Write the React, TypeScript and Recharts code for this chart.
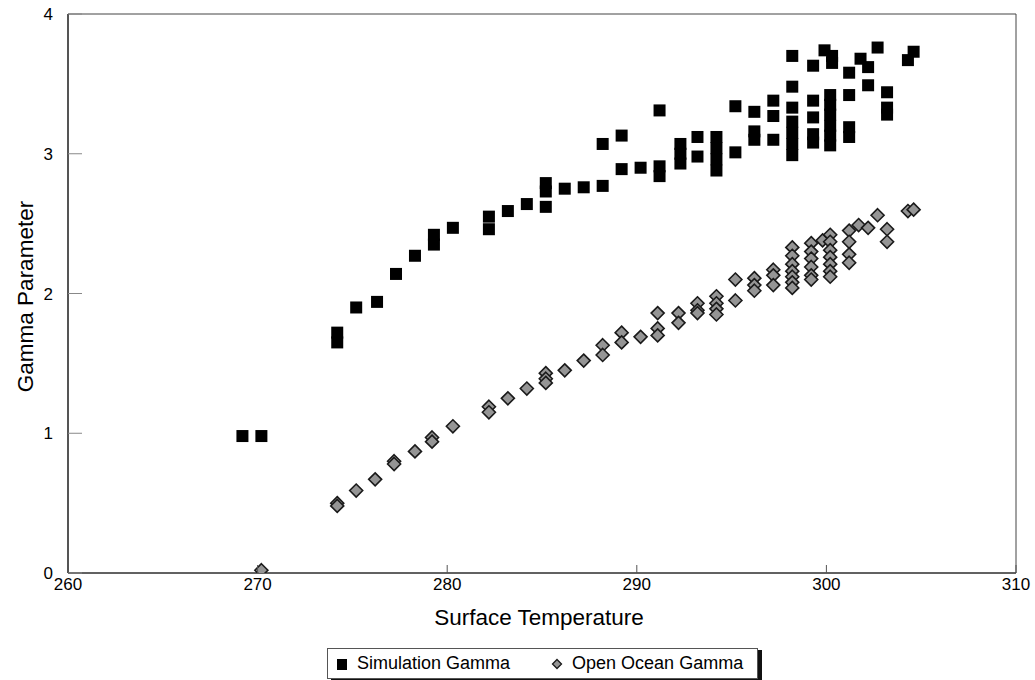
import React from 'react';
import { ScatterChart, Scatter, XAxis, YAxis, ReferenceArea, Legend } from 'recharts';

// [surface temperature, gamma]
const simulationPoints: [number, number][] = [
  [269.2, 0.98], [270.2, 0.98],
  [274.2, 1.72], [274.2, 1.65],
  [275.2, 1.9],
  [276.3, 1.94],
  [277.3, 2.14],
  [278.3, 2.27],
  [279.3, 2.42], [279.3, 2.35],
  [280.3, 2.47],
  [282.2, 2.55], [282.2, 2.46],
  [283.2, 2.59],
  [284.2, 2.64],
  [285.2, 2.79], [285.2, 2.73], [285.2, 2.62],
  [286.2, 2.75],
  [287.2, 2.76],
  [288.2, 2.77], [288.2, 3.07],
  [289.2, 2.89], [289.2, 3.13],
  [290.2, 2.9],
  [291.2, 2.91], [291.2, 2.84], [291.2, 3.31],
  [292.3, 3.07], [292.3, 3.0], [292.3, 2.93],
  [293.2, 3.12], [293.2, 2.98],
  [294.2, 3.12], [294.2, 3.04], [294.2, 2.96], [294.2, 2.88],
  [295.2, 3.34], [295.2, 3.01],
  [296.2, 3.3], [296.2, 3.16], [296.2, 3.1],
  [297.2, 3.38], [297.2, 3.27], [297.2, 3.1],
  [298.2, 3.7], [298.2, 3.48], [298.2, 3.33], [298.2, 3.23], [298.2, 3.15], [298.2, 3.07], [298.2, 2.99],
  [299.3, 3.63], [299.3, 3.38], [299.3, 3.26], [299.3, 3.14], [299.3, 3.08],
  [299.9, 3.74], [300.3, 3.7], [300.3, 3.65],
  [300.2, 3.42], [300.2, 3.35], [300.2, 3.28], [300.2, 3.2], [300.2, 3.13], [300.2, 3.06],
  [301.2, 3.58], [301.2, 3.42], [301.2, 3.19], [301.2, 3.12],
  [301.8, 3.68], [302.2, 3.62], [302.2, 3.49],
  [302.7, 3.76],
  [303.2, 3.44], [303.2, 3.33], [303.2, 3.28],
  [304.3, 3.67], [304.6, 3.73],
];

const oceanPoints: [number, number][] = [
  [270.2, 0.02],
  [274.2, 0.5], [274.2, 0.48],
  [275.2, 0.59],
  [276.2, 0.67],
  [277.2, 0.8], [277.2, 0.78],
  [278.3, 0.87],
  [279.2, 0.97], [279.2, 0.94],
  [280.3, 1.05],
  [282.2, 1.19], [282.2, 1.15],
  [283.2, 1.25],
  [284.2, 1.32],
  [285.2, 1.43], [285.2, 1.39], [285.2, 1.36],
  [286.2, 1.45],
  [287.2, 1.52],
  [288.2, 1.63], [288.2, 1.56],
  [289.2, 1.72], [289.2, 1.65],
  [290.2, 1.69],
  [291.1, 1.86], [291.1, 1.75], [291.1, 1.7],
  [292.2, 1.86], [292.2, 1.79],
  [293.2, 1.93], [293.2, 1.88], [293.2, 1.86],
  [294.2, 1.98], [294.2, 1.93], [294.2, 1.89], [294.2, 1.85],
  [295.2, 2.1], [295.2, 1.95],
  [296.2, 2.11], [296.2, 2.06], [296.2, 2.02],
  [297.2, 2.17], [297.2, 2.13], [297.2, 2.06],
  [298.2, 2.33], [298.2, 2.27], [298.2, 2.21], [298.2, 2.16], [298.2, 2.12], [298.2, 2.08], [298.2, 2.04],
  [299.2, 2.36], [299.2, 2.3], [299.2, 2.25], [299.2, 2.19], [299.2, 2.13], [299.2, 2.1],
  [299.8, 2.38],
  [300.2, 2.42], [300.2, 2.37], [300.2, 2.31], [300.2, 2.26], [300.2, 2.21], [300.2, 2.16], [300.2, 2.12],
  [301.2, 2.45], [301.2, 2.37], [301.2, 2.28], [301.2, 2.22],
  [301.7, 2.49], [302.2, 2.47],
  [302.7, 2.56],
  [303.2, 2.46], [303.2, 2.37],
  [304.3, 2.59], [304.6, 2.6],
];

const seriesNames = ['Simulation Gamma', 'Open Ocean Gamma'];
const xTicks = [260, 270, 280, 290, 300, 310];
const yTicks = [0, 1, 2, 3, 4];

const simulationData = simulationPoints.map(([x, y]) => ({ x, y }));
const oceanData = oceanPoints.map(([x, y]) => ({ x, y }));

const FONT = '"Liberation Sans", Arial, sans-serif';

const SquareShape = (props: any) => {
  const { cx, cy } = props;
  if (cx == null || cy == null) return null;
  return <rect x={cx - 6} y={cy - 6} width={12} height={12} fill="#000" />;
};

const DiamondShape = (props: any) => {
  const { cx, cy } = props;
  if (cx == null || cy == null) return null;
  const r = 6.5;
  return (
    <path
      d={`M${cx},${cy - r}L${cx + r},${cy}L${cx},${cy + r}L${cx - r},${cy}Z`}
      fill="#959595"
      stroke="#1a1a1a"
      strokeWidth={1.6}
    />
  );
};

const XTick = (props: any) => {
  const { x, y, payload } = props;
  return (
    <g>
      <line x1={x} x2={x} y1={y} y2={y - 8} stroke="#555" strokeWidth={1} />
      <text x={x} y={y + 17} textAnchor="middle" fontSize={17} fontFamily={FONT} fill="#000">
        {payload.value}
      </text>
    </g>
  );
};

const YTick = (props: any) => {
  const { x, y, payload } = props;
  return (
    <g>
      <line x1={x} x2={x + 14} y1={y} y2={y} stroke="#888" strokeWidth={1} />
      <text x={x - 15} y={y + 6} textAnchor="end" fontSize={17} fontFamily={FONT} fill="#000">
        {payload.value}
      </text>
    </g>
  );
};

const XTitle = (props: any) => {
  const vb = props.viewBox;
  return (
    <text x={vb.x + vb.width / 2 - 3} y={vb.y + 52} textAnchor="middle" fontSize={22.5} fontFamily={FONT} fill="#000">
      Surface Temperature
    </text>
  );
};

const YTitle = (props: any) => {
  const vb = props.viewBox;
  const cx = vb.x + 25;
  const cy = vb.y + vb.height / 2 + 3;
  return (
    <text
      x={cx}
      y={cy}
      transform={`rotate(-90, ${cx}, ${cy})`}
      textAnchor="middle"
      fontSize={22.5}
      fontFamily={FONT}
      fill="#000"
    >
      Gamma Parameter
    </text>
  );
};

const LegendContent = () => {
  return (
    <div
      style={{
        boxSizing: 'border-box',
        width: 431,
        height: 31,
        border: '1px solid #555',
        boxShadow: '4px 2px 0 #111',
        background: '#fff',
        display: 'flex',
        alignItems: 'center',
        fontFamily: FONT,
        fontSize: 18,
        color: '#000',
        paddingLeft: 7,
      }}
    >
      {seriesNames.map((name, i) => (
        <div key={name} style={{ display: 'flex', alignItems: 'center', marginRight: i === 0 ? 40 : 0 }}>
          <svg width={14} height={14} style={{ marginRight: 8 }}>
            {i === 0 ? (
              <rect x={2} y={2} width={10} height={11} fill="#000" />
            ) : (
              <path d="M7,2.5L11.5,7L7,11.5L2.5,7Z" fill="#959595" stroke="#1a1a1a" strokeWidth={1.3} />
            )}
          </svg>
          <span>{name}</span>
        </div>
      ))}
    </div>
  );
};

export default function App() {
  return (
    <div style={{ width: 1035, height: 680, background: '#fff', position: 'relative' }}>
      <style>{'body{margin:0;background:#fff;}'}</style>
      <ScatterChart width={1035} height={680} margin={{ top: 14, right: 19, left: 8, bottom: 47 }}>
        <XAxis
          type="number"
          dataKey="x"
          domain={[260, 310]}
          ticks={xTicks}
          allowDataOverflow
          height={60}
          tickSize={0}
          tickMargin={0}
          tickLine={false}
          tick={<XTick />}
          axisLine={{ stroke: '#222', strokeWidth: 1.2 }}
          label={<XTitle />}
          interval={0}
        />
        <YAxis
          type="number"
          dataKey="y"
          domain={[0, 4]}
          ticks={yTicks}
          allowDataOverflow
          width={60}
          tickSize={0}
          tickMargin={0}
          tickLine={false}
          tick={<YTick />}
          axisLine={{ stroke: '#222', strokeWidth: 1.2 }}
          label={<YTitle />}
          interval={0}
        />
        <ReferenceArea x1={260} x2={310} y1={0} y2={4} fill="none" stroke="#444" strokeWidth={1} ifOverflow="visible" />
        <Scatter name={seriesNames[0]} data={simulationData} shape={<SquareShape />} isAnimationActive={false} legendType="square" fill="#000" />
        <Scatter name={seriesNames[1]} data={oceanData} shape={<DiamondShape />} isAnimationActive={false} legendType="diamond" fill="#959595" />
        <Legend
          layout="horizontal"
          verticalAlign="middle"
          align="center"
          content={<LegendContent />}
          wrapperStyle={{ position: 'absolute', left: 327, top: 648, width: 436, height: 33, bottom: 'auto', right: 'auto' }}
        />
      </ScatterChart>
    </div>
  );
}
